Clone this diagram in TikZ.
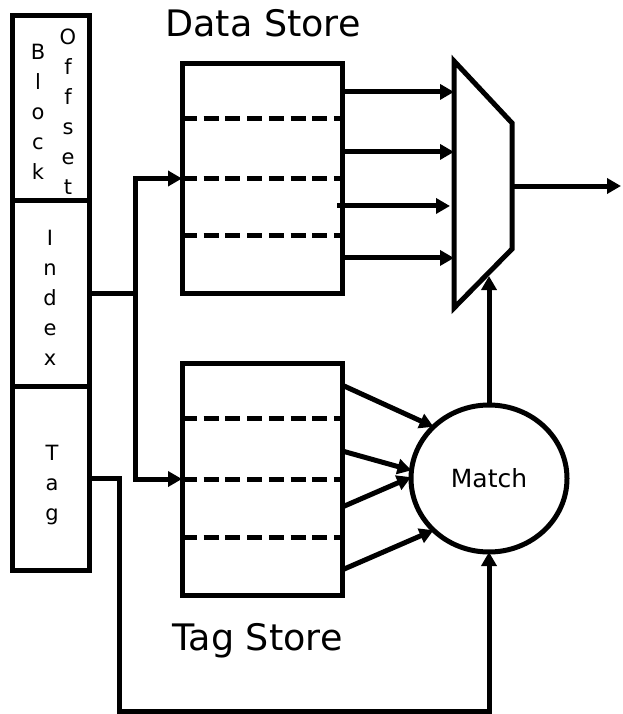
\documentclass[tikz,border=0pt]{standalone}
\usepackage{fontspec}
\setmainfont{DejaVu Sans}
\usetikzlibrary{arrows.meta,shapes.geometric,calc}
\begin{document}
\begin{tikzpicture}[x=1pt,y=-1pt,
  every node/.style={inner sep=0pt, outer sep=0pt},
  lw/.style={line width=5pt},
  boxnode/.style={draw, lw, rectangle},
  arr/.style={lw, -{Triangle[length=14pt,width=15pt]}},
  rowsep/.style={lw, dash pattern=on 15pt off 6.7pt},
  letters/.style={align=center, font=\fontsize{21}{30}\selectfont},
  titletext/.style={anchor=base, font=\fontsize{36.5}{40}\selectfont}
]
\useasboundingbox (0,0) rectangle (623,714);

% address column
\node[boxnode, minimum width=77pt, minimum height=184pt] (offs) at (50.5,108) {};
\node[boxnode, minimum width=77pt, minimum height=186pt] (idx) at (50.5,293) {};
\node[boxnode, minimum width=77pt, minimum height=184pt] (tag) at (50.5,478) {};
\node[letters] (tBlock) at (38,112) {B\\l\\o\\c\\k};
\node[letters] (tOffset) at (68,112) {O\\f\\f\\s\\e\\t};
\node[letters] (tIndex) at (50,298) {I\\n\\d\\e\\x};
\node[letters] (tTag) at (52,485) {T\\a\\g};

% stores
\node[boxnode, minimum width=160pt, minimum height=229pt] (ds) at (262,178.5) {};
\node[boxnode, minimum width=160pt, minimum height=232pt] (ts) at (262,479) {};
\node[titletext] (dsl) at (263,37) {Data Store};
\node[titletext] (tsl) at (257.5,650) {Tag Store};
\foreach \f in {0.24,0.5,0.75}{
  \draw[rowsep] ($(ds.north west)!\f!(ds.south west)$) -- ($(ds.north east)!\f!(ds.south east)$);
  \draw[rowsep] ($(ts.north west)!\f!(ts.south west)$) -- ($(ts.north east)!\f!(ts.south east)$);
}

% multiplexer
\coordinate (mA) at (454,61);
\coordinate (mB) at (512,123);
\coordinate (mC) at (512,249);
\coordinate (mD) at (454,308);
\draw[lw, line join=miter] (mA) -- (mB) -- (mC) -- (mD) -- cycle;

% data store to mux
\draw[arr] ($(ds.north east)!0.122!(ds.south east)$) coordinate (d1) -- (d1 -| mA);
\draw[arr] ($(ds.north east)!0.384!(ds.south east)$) coordinate (d2) -- (d2 -| mA);
\draw[arr] ($(ds.north east)!0.62!(ds.south east) + (-5,0)$) coordinate (d3) -- ($(d3 -| mA) + (-4,0)$);
\draw[arr] ($(ds.north east)!0.847!(ds.south east)$) coordinate (d4) -- (d4 -| mA);

% mux output
\coordinate (outEnd) at (621,186);
\draw[arr] ($(mB)!0.5!(mC)$) -- (outEnd);

% match
\node[ellipse, draw, lw, minimum width=156pt, minimum height=147pt,
      font=\fontsize{25}{30}\selectfont] (match) at (489,478.5) {Match};
\foreach \f/\a in {0.095/137,0.379/174,0.621/179,0.892/223}
  \draw[arr] ($(ts.north east)!\f!(ts.south east)$) -- (match.\a);

% select
\coordinate (sel) at (489,276);
\draw[arr] (match.north) -- (sel);

% index wiring
\coordinate (jn) at (135,293);
\draw[arr] (idx.east) -- (jn) |- (ds.west);
\draw[arr] (jn) |- (ts.west);

% tag wiring
\coordinate (bl) at (119,711);
\draw[arr] (tag.east) -| (bl) -| (match.south);
\end{tikzpicture}
\end{document}
